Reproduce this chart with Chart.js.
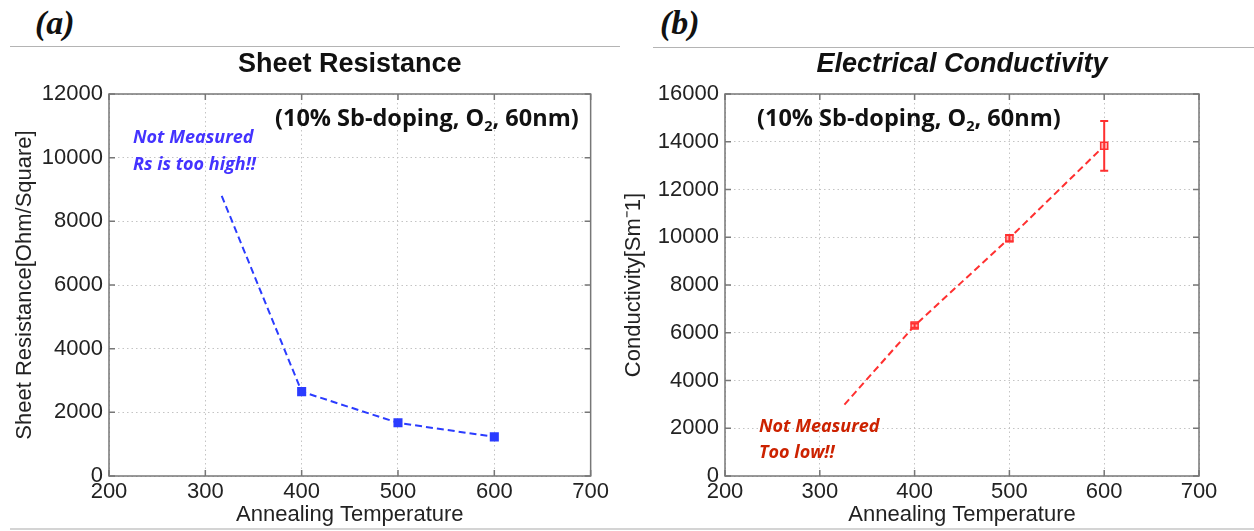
<!DOCTYPE html>
<html>
<head>
<meta charset="utf-8">
<title>Sheet resistance / conductivity</title>
<script src="https://cdn.jsdelivr.net/npm/chart.js@4.4.1/dist/chart.umd.min.js"></script>
<style>
  html, body { margin: 0; padding: 0; background: #fff; }
  body { width: 1254px; height: 531px; position: relative; overflow: hidden; }
  .panel { position: absolute; top: 0; height: 531px; }
  .tag { position: absolute; font: italic bold 34px "Liberation Serif", serif; line-height: 34px; color: #111; }
  .rule { position: absolute; height: 1px; background: #b4b4b4; }
</style>
</head>
<body>
<div class="tag" style="left:35px; top:6px">(a)</div>
<div class="tag" style="left:660px; top:6px">(b)</div>
<div class="rule" style="left:10px; top:46px; width:610px"></div>
<div class="rule" style="left:653px; top:47px; width:601px"></div>
<div class="rule" style="left:10px; top:528px; width:1244px; height:2px; background:#d4d4d4"></div>

<div class="panel" style="left:0; width:612px"><canvas id="rs-chart" width="612" height="531"></canvas></div>
<div class="panel" style="left:612px; width:642px"><canvas id="sigma-chart" width="642" height="531"></canvas></div>

<script>
"use strict";

// x axis (annealing temperature)
const tempMin = 200;
const tempMax = 700;
const tempStep = 100;

// sheet resistance, first point is where the dashed "not measured" line starts
const rsTemp = [317, 400, 500, 600];
const rsValue = [8800, 2650, 1670, 1230];
const rsMax = 12000;
const rsStep = 2000;

// conductivity, first point is the start of the dashed line
const sigmaTemp = [326, 400, 500, 600];
const sigmaValue = [2990, 6300, 9960, 13830];
const sigmaError = [0, 90, 130, 1040];
const sigmaMax = 16000;
const sigmaStep = 2000;

const FONT = "'Liberation Sans', Arial, Helvetica, sans-serif";
const NOTE_FONT = "'Open Sans', 'Liberation Sans', sans-serif";

// matlab-like box with inward ticks on all four sides
const framePlugin = {
  id: "frame",
  beforeDatasetsDraw(chart) {
    const { ctx, chartArea: a, scales } = chart;
    const len = 6;
    ctx.save();
    ctx.strokeStyle = "#777";
    ctx.lineWidth = 1.5;
    ctx.beginPath();
    scales.x.ticks.forEach((t) => {
      const px = scales.x.getPixelForValue(t.value);
      ctx.moveTo(px, a.bottom); ctx.lineTo(px, a.bottom - len);
      ctx.moveTo(px, a.top); ctx.lineTo(px, a.top + len);
    });
    scales.y.ticks.forEach((t) => {
      const py = scales.y.getPixelForValue(t.value);
      ctx.moveTo(a.left, py); ctx.lineTo(a.left + len, py);
      ctx.moveTo(a.right, py); ctx.lineTo(a.right - len, py);
    });
    ctx.stroke();
    ctx.strokeRect(a.left, a.top, a.right - a.left, a.bottom - a.top);
    ctx.restore();
  },
};

// error bars read from the dataset's "errors" array
const errorBarPlugin = {
  id: "errorBars",
  afterDatasetsDraw(chart) {
    const { ctx, scales } = chart;
    chart.data.datasets.forEach((ds) => {
      if (!ds.errors) return;
      ctx.save();
      ctx.strokeStyle = ds.borderColor;
      ctx.lineWidth = 2;
      ds.data.forEach((p, i) => {
        const e = ds.errors[i];
        if (!e) return;
        const x = scales.x.getPixelForValue(p.x);
        const y1 = scales.y.getPixelForValue(p.y + e);
        const y2 = scales.y.getPixelForValue(p.y - e);
        ctx.beginPath();
        ctx.moveTo(x, y1); ctx.lineTo(x, y2);
        ctx.moveTo(x - 4, y1); ctx.lineTo(x + 4, y1);
        ctx.moveTo(x - 4, y2); ctx.lineTo(x + 4, y2);
        ctx.stroke();
      });
      ctx.restore();
    });
  },
};

// free text inside the plot, parts can be subscripted
const notesPlugin = {
  id: "notes",
  afterDraw(chart, args, opts) {
    const { ctx } = chart;
    (opts.items || []).forEach((n) => {
      let x = n.x;
      ctx.save();
      ctx.fillStyle = n.color;
      ctx.textBaseline = "alphabetic";
      n.parts.forEach((part) => {
        const sub = part.sub;
        const size = sub ? n.size * 0.62 : n.size;
        ctx.font = `${n.style} ${n.weight} ${size}px ${NOTE_FONT}`;
        ctx.fillText(part.text, x, n.y + (sub ? n.size * 0.2 : 0));
        x += ctx.measureText(part.text).width;
      });
      ctx.restore();
    });
  },
};

const condition = (x, y) => ({
  x, y, size: 23.5, weight: "bold", style: "normal", color: "#111",
  parts: [{ text: "(10% Sb-doping, O" }, { text: "2", sub: true }, { text: ", 60nm)" }],
});
const remark = (x, y, text, color) => ({
  x, y, size: 18, weight: "bold", style: "italic", color, parts: [{ text }],
});

function buildOptions(cfg) {
  return {
    responsive: false,
    animation: false,
    events: [],
    layout: { padding: { top: 40, right: cfg.padRight, left: 0, bottom: 0 } },
    plugins: {
      legend: { display: false },
      tooltip: { enabled: false },
      title: {
        display: true,
        text: cfg.title,
        fullSize: false,
        color: "#111",
        font: { family: FONT, size: 27, weight: "bold", style: cfg.titleStyle },
        padding: { top: 8, bottom: 13.6 },
      },
      notes: { items: cfg.notes },
    },
    scales: {
      x: {
        type: "linear",
        min: tempMin,
        max: tempMax,
        ticks: {
          stepSize: tempStep, color: "#222", padding: 3,
          font: { family: FONT, size: 22 },
          callback: (v) => String(v),
        },
        grid: { color: "#c4c4c4", lineWidth: 1, drawTicks: false },
        border: { display: false, dash: [1.5, 3] },
        title: {
          display: true,
          text: "Annealing Temperature",
          color: "#222",
          font: { family: FONT, size: 22 },
          padding: { top: 0, bottom: 3 },
        },
        afterFit: (s) => { s.height = 55; },
      },
      y: {
        min: 0,
        max: cfg.yMax,
        ticks: {
          stepSize: cfg.yStep, color: "#222", padding: 6,
          font: { family: FONT, size: 22 },
          callback: (v) => String(v),
        },
        grid: { color: "#c4c4c4", lineWidth: 1, drawTicks: false },
        border: { display: false, dash: [1.5, 3] },
        title: {
          display: true,
          text: cfg.yTitle,
          color: "#222",
          font: { family: FONT, size: 22 },
          padding: { top: cfg.yTitlePad, bottom: 0 },
        },
        afterFit: (s) => { s.width = cfg.yWidth; },
      },
    },
  };
}

new Chart(document.getElementById("rs-chart"), {
  type: "line",
  data: {
    datasets: [{
      data: rsTemp.map((t, i) => ({ x: t, y: rsValue[i] })),
      borderColor: "#2b3cff",
      borderWidth: 2,
      borderDash: [7, 4],
      tension: 0,
      pointStyle: "rect",
      pointRadius: (c) => (c.dataIndex === 0 ? 0 : 5),
      pointBackgroundColor: "#2b3cff",
      pointBorderColor: "#2b3cff",
    }],
  },
  options: buildOptions({
    title: "Sheet Resistance",
    titleStyle: "normal",
    padRight: 20,
    yMax: rsMax,
    yStep: rsStep,
    yTitle: "Sheet Resistance[Ohm/Square]",
    yTitlePad: 12,
    yWidth: 109,
    notes: [
      condition(275, 126),
      remark(133, 143, "Not Measured", "#4433ff"),
      remark(133, 170, "Rs is too high!!", "#4433ff"),
    ],
  }),
  plugins: [framePlugin, notesPlugin],
});

new Chart(document.getElementById("sigma-chart"), {
  type: "line",
  data: {
    datasets: [{
      data: sigmaTemp.map((t, i) => ({ x: t, y: sigmaValue[i] })),
      errors: sigmaError,
      borderColor: "#ff3030",
      borderWidth: 2,
      borderDash: [7, 4],
      tension: 0,
      pointStyle: "rect",
      pointRadius: (c) => (c.dataIndex === 0 ? 0 : 5),
      pointBorderWidth: 1.5,
      pointBackgroundColor: "#ffb4b4",
      pointBorderColor: "#ff3030",
    }],
  },
  options: buildOptions({
    title: "Electrical Conductivity",
    titleStyle: "italic",
    padRight: 55,
    yMax: sigmaMax,
    yStep: sigmaStep,
    yTitle: "Conductivity[Sm\u207B1]",
    yTitlePad: 9,
    yWidth: 113,
    notes: [
      condition(145, 126),
      remark(147, 432, "Not Measured", "#cc2200"),
      remark(147, 458, "Too low!!", "#cc2200"),
    ],
  }),
  plugins: [framePlugin, errorBarPlugin, notesPlugin],
});
</script>
</body>
</html>
